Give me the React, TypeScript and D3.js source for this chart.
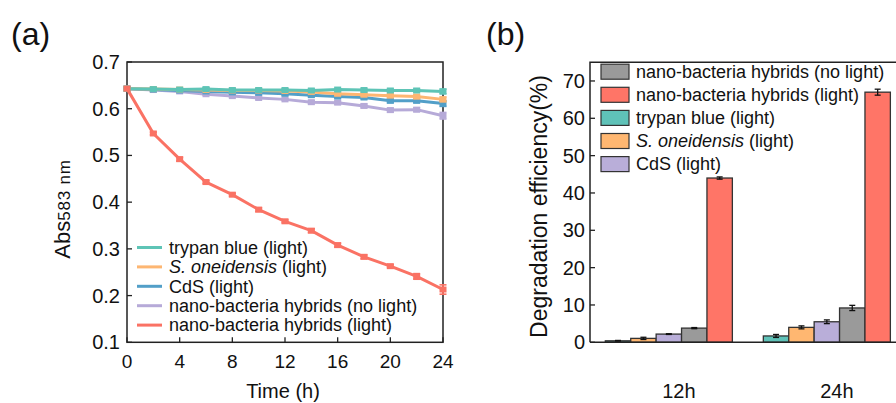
import React from "react";
import * as d3 from "d3";

// ---------- Panel (a) data ----------
const times = [0, 2, 4, 6, 8, 10, 12, 14, 16, 18, 20, 22, 24];
const trypanBlue = [0.643, 0.642, 0.641, 0.642, 0.640, 0.640, 0.640, 0.639, 0.641, 0.640, 0.639, 0.639, 0.637];
const sOneidensis = [0.643, 0.642, 0.641, 0.640, 0.639, 0.639, 0.638, 0.636, 0.632, 0.630, 0.628, 0.626, 0.620];
const cdsLight = [0.643, 0.641, 0.639, 0.637, 0.635, 0.634, 0.632, 0.629, 0.626, 0.624, 0.617, 0.617, 0.611];
const hybridsNoLight = [0.643, 0.640, 0.637, 0.631, 0.627, 0.623, 0.620, 0.614, 0.613, 0.606, 0.597, 0.598, 0.585];
const hybridsLight = [0.643, 0.547, 0.492, 0.443, 0.416, 0.384, 0.359, 0.339, 0.308, 0.283, 0.263, 0.241, 0.213];
const errTrypan = [0, 0.002, 0.002, 0.003, 0.002, 0.002, 0.002, 0.003, 0.002, 0.002, 0.003, 0.003, 0.005];
const errSOne = [0, 0.002, 0.002, 0.002, 0.002, 0.002, 0.002, 0.003, 0.003, 0.003, 0.003, 0.004, 0.005];
const errCds = [0, 0.002, 0.002, 0.002, 0.002, 0.002, 0.003, 0.003, 0.003, 0.003, 0.004, 0.004, 0.006];
const errNoLight = [0, 0.002, 0.002, 0.002, 0.002, 0.002, 0.002, 0.003, 0.003, 0.004, 0.004, 0.004, 0.007];
const errLight = [0, 0.003, 0.004, 0.003, 0.003, 0.004, 0.003, 0.004, 0.004, 0.004, 0.003, 0.006, 0.010];
const lineLabels = ["trypan blue (light)", "S. oneidensis", "CdS (light)", "nano-bacteria hybrids (no light)", "nano-bacteria hybrids (light)"];
const yTicksA = [0.1, 0.2, 0.3, 0.4, 0.5, 0.6, 0.7];
const xTicksA = [0, 4, 8, 12, 16, 20, 24];

// ---------- Panel (b) data ----------
const barCategories = ["12h", "24h"];
const barSeriesNames = ["trypan blue (light)", "S. oneidensis (light)", "CdS (light)", "nano-bacteria hybrids (no light)", "nano-bacteria hybrids (light)"];
const bar12h = [0.4, 1.05, 2.2, 3.8, 44.0];
const bar24h = [1.7, 4.0, 5.5, 9.2, 67.0];
const barErr12h = [0.1, 0.3, 0.1, 0.15, 0.3];
const barErr24h = [0.4, 0.4, 0.5, 0.7, 0.8];
const yTicksB = [0, 10, 20, 30, 40, 50, 60, 70];
const legendOrderB = [3, 4, 0, 1, 2];

const lineColors = ["#5EC4B6", "#FDB672", "#529FC8", "#B6AAD8", "#FA7264"];
const barColors = ["#5FC2B8", "#FFB771", "#B9AED9", "#9A9A9A", "#FF7567"];

const FONT = "'Liberation Sans', Arial, Helvetica, sans-serif";

export default function App() {
  // Panel (a) scales
  const ax0 = 127, ax1 = 443, ay0 = 62, ay1 = 342.3;
  const xA = d3.scaleLinear().domain([0, 24]).range([ax0, ax1]);
  const yA = d3.scaleLinear().domain([0.1, 0.7]).range([ay1, ay0]);
  const seriesA = [
    { vals: trypanBlue, err: errTrypan },
    { vals: sOneidensis, err: errSOne },
    { vals: cdsLight, err: errCds },
    { vals: hybridsNoLight, err: errNoLight },
    { vals: hybridsLight, err: errLight },
  ];
  const lineGen = d3
    .line<number>()
    .x((_, i) => xA(times[i]))
    .y((d) => yA(d));
  const drawOrder = [3, 2, 1, 0, 4];

  // Panel (b) scales
  const bx0 = 590, by0 = 62.3, by1 = 342.3;
  const xB = d3
    .scaleBand<string>()
    .domain(barCategories)
    .range([bx0, 905.7])
    .paddingInner(0.196)
    .paddingOuter(0.097);
  const xInner = d3
    .scaleBand<number>()
    .domain(d3.range(barSeriesNames.length))
    .range([0, xB.bandwidth()]);
  const yB = d3.scaleLinear().domain([0, 75]).range([by1, by0]);
  const barData = [
    { cat: "12h", vals: bar12h, err: barErr12h },
    { cat: "24h", vals: bar24h, err: barErr24h },
  ];

  return (
    <svg
      width={896}
      height={403}
      style={{ position: "absolute", left: 0, top: 0, background: "#fff" }}
      fontFamily={FONT}
    >
      <rect x={0} y={0} width={896} height={403} fill="#fff" />
      {/* ---------------- Panel (a) ---------------- */}
      <text x={11} y={45} fontSize={32} fill="#111">(a)</text>
      <rect x={ax0} y={ay0} width={ax1 - ax0} height={ay1 - ay0} fill="none" stroke="#222" strokeWidth={1.5} />
      {yTicksA.map((t) => (
        <g key={"ya" + t}>
          <line x1={ax0} x2={ax0 + 5} y1={yA(t)} y2={yA(t)} stroke="#222" strokeWidth={1.3} />
          <text x={ax0 - 7} y={yA(t)} dy="0.35em" textAnchor="end" fontSize={20} fill="#111">
            {d3.format(".1f")(t)}
          </text>
        </g>
      ))}
      {xTicksA.map((t) => (
        <g key={"xa" + t}>
          <line x1={xA(t)} x2={xA(t)} y1={ay1} y2={ay1 - 5} stroke="#222" strokeWidth={1.3} />
          <text x={xA(t)} y={ay1 + 26} textAnchor="middle" fontSize={19} fill="#111">
            {t}
          </text>
        </g>
      ))}
      <text x={283} y={398} textAnchor="middle" fontSize={20} fill="#111">Time (h)</text>
      <text transform="translate(70,209) rotate(-90)" textAnchor="middle" fill="#111">
        <tspan fontSize={22}>Abs</tspan>
        <tspan fontSize={17} letterSpacing={0.8}>583 nm</tspan>
      </text>

      {drawOrder.map((si) => {
        const s = seriesA[si];
        return (
          <g key={"la" + si}>
            <path d={lineGen(s.vals) || ""} fill="none" stroke={lineColors[si]} strokeWidth={3} strokeLinejoin="round" />
            {s.vals.map((v, i) => (
              <g key={i}>
                {s.err[i] > 0 && (
                  <g stroke={lineColors[si]} strokeWidth={1.6}>
                    <line x1={xA(times[i])} x2={xA(times[i])} y1={yA(v - s.err[i])} y2={yA(v + s.err[i])} />
                    <line x1={xA(times[i]) - 3.5} x2={xA(times[i]) + 3.5} y1={yA(v - s.err[i])} y2={yA(v - s.err[i])} />
                    <line x1={xA(times[i]) - 3.5} x2={xA(times[i]) + 3.5} y1={yA(v + s.err[i])} y2={yA(v + s.err[i])} />
                  </g>
                )}
                <rect
                  x={xA(times[i]) - 3.5}
                  y={yA(v) - 3}
                  width={7}
                  height={6}
                  fill={lineColors[si]}
                />
              </g>
            ))}
          </g>
        );
      })}

      {/* Legend (a) */}
      {lineLabels.map((lab, i) => {
        const yy = 247.5 + i * 19.4;
        return (
          <g key={"lga" + i}>
            <line x1={137} x2={162} y1={yy} y2={yy} stroke={lineColors[i]} strokeWidth={3} />
            <text x={169} y={yy} dy="0.35em" fontSize={18} fill="#111">
              {i === 1 ? (
                <>
                  <tspan fontStyle="italic">S. oneidensis</tspan>
                  <tspan> (light)</tspan>
                </>
              ) : (
                lab
              )}
            </text>
          </g>
        );
      })}

      {/* ---------------- Panel (b) ---------------- */}
      <text x={486} y={45} fontSize={32} fill="#111">(b)</text>
      <text transform="translate(547,206.5) rotate(-90)" textAnchor="middle" fontSize={23} fill="#111">
        Degradation efficiency(%)
      </text>

      {barData.map((g) => (
        <g key={g.cat} transform={`translate(${xB(g.cat)},0)`}>
          {g.vals.map((v, i) => (
            <g key={i}>
              <rect
                x={xInner(i)}
                y={yB(v)}
                width={xInner.bandwidth()}
                height={yB(0) - yB(v)}
                fill={barColors[i]}
                stroke="#333"
                strokeWidth={1.3}
              />
              <g stroke="#111" strokeWidth={1.3}>
                <line
                  x1={(xInner(i) as number) + xInner.bandwidth() / 2}
                  x2={(xInner(i) as number) + xInner.bandwidth() / 2}
                  y1={yB(v - g.err[i])}
                  y2={yB(v + g.err[i])}
                />
                <line
                  x1={(xInner(i) as number) + xInner.bandwidth() / 2 - 3}
                  x2={(xInner(i) as number) + xInner.bandwidth() / 2 + 3}
                  y1={yB(v - g.err[i])}
                  y2={yB(v - g.err[i])}
                />
                <line
                  x1={(xInner(i) as number) + xInner.bandwidth() / 2 - 3}
                  x2={(xInner(i) as number) + xInner.bandwidth() / 2 + 3}
                  y1={yB(v + g.err[i])}
                  y2={yB(v + g.err[i])}
                />
              </g>
            </g>
          ))}
          <text
            x={xB.bandwidth() / 2 + 10}
            y={398}
            textAnchor="middle"
            fontSize={20}
            fill="#111"
          >
            {g.cat}
          </text>
        </g>
      ))}

      {/* frame (b) */}
      <path
        d={`M${bx0},${by1} L${bx0},${by0} L900,${by0} M${bx0},${by1} L900,${by1}`}
        fill="none"
        stroke="#222"
        strokeWidth={1.5}
      />
      {yTicksB.map((t) => (
        <g key={"yb" + t}>
          <line x1={bx0} x2={bx0 + 5} y1={yB(t)} y2={yB(t)} stroke="#222" strokeWidth={1.3} />
          <text x={bx0 - 5} y={yB(t)} dy="0.35em" textAnchor="end" fontSize={20} fill="#111">
            {t}
          </text>
        </g>
      ))}

      {/* Legend (b) */}
      {legendOrderB.map((si, k) => {
        const yy = 71.7 + k * 23.1;
        return (
          <g key={"lgb" + si}>
            <rect x={601} y={yy - 7.5} width={28} height={15} fill={barColors[si]} stroke="#333" strokeWidth={1.2} />
            <text x={636} y={yy} dy="0.35em" fontSize={18} fill="#111">
              {si === 1 ? (
                <>
                  <tspan fontStyle="italic">S. oneidensis</tspan>
                  <tspan> (light)</tspan>
                </>
              ) : (
                barSeriesNames[si]
              )}
            </text>
          </g>
        );
      })}
    </svg>
  );
}
